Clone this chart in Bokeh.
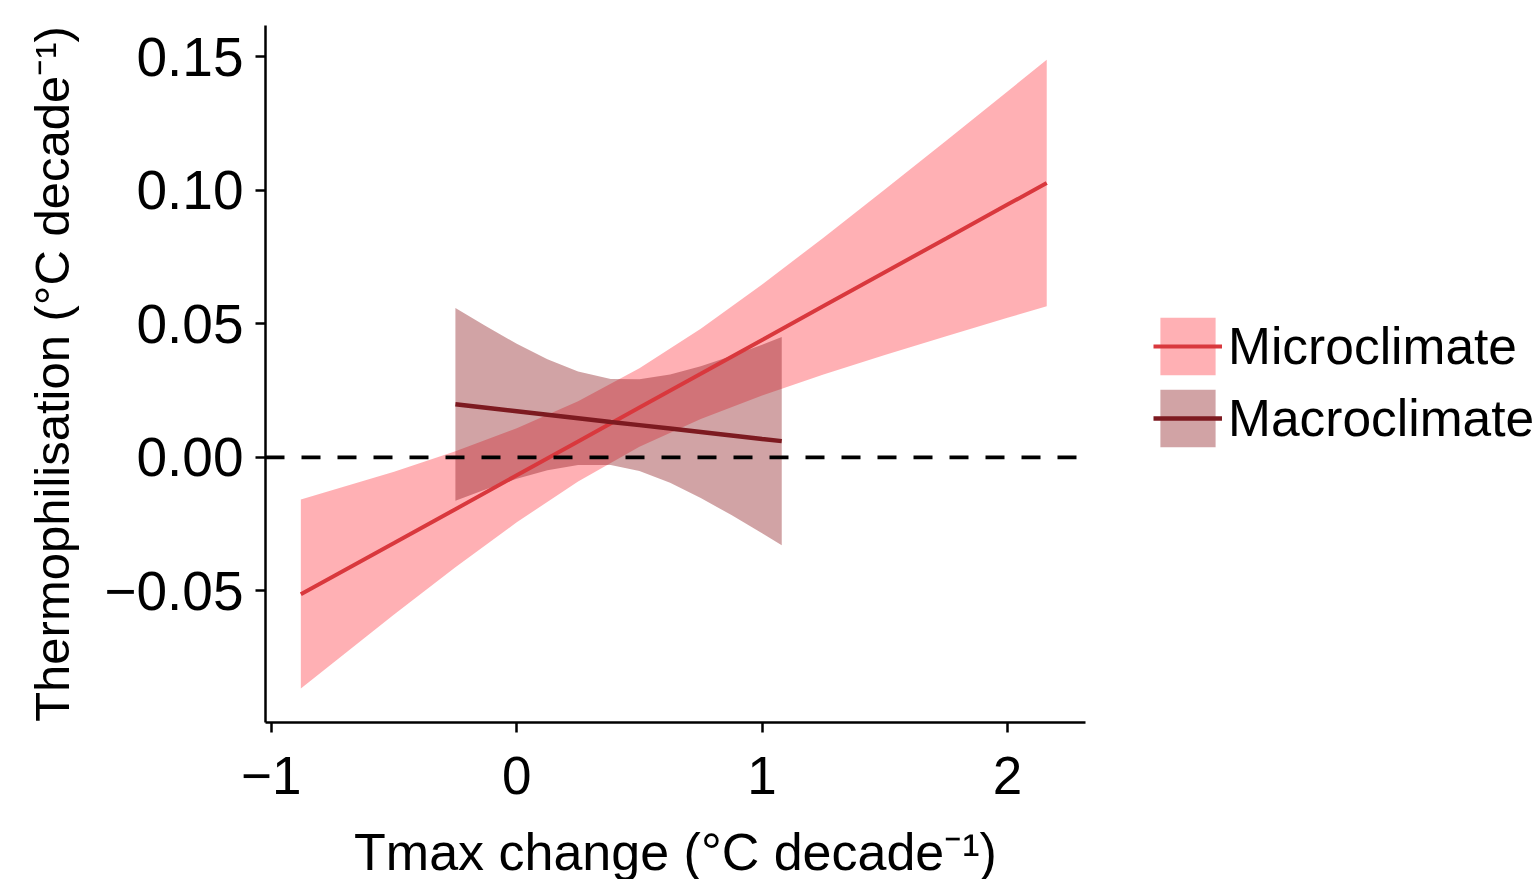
from bokeh.plotting import figure
from bokeh.models import Range1d, FixedTicker, Span, Legend, LegendItem
from bokeh.embed import file_html
from bokeh.resources import INLINE

# ---------------- data ----------------
micro_x = [-0.88, -0.5, -0.25, 0.0, 0.25, 0.5, 0.75, 1.0, 1.25, 1.5, 1.75, 2.0, 2.16]
micro_fit = [-0.0513, -0.0321, -0.0194, -0.0067, 0.0060, 0.0187, 0.0313, 0.0440,
             0.0567, 0.0694, 0.0820, 0.0947, 0.1028]
micro_upper = [-0.0158, -0.0054, 0.0023, 0.0109, 0.0210, 0.0334, 0.0482, 0.0648,
               0.0823, 0.1004, 0.1186, 0.1371, 0.1490]
micro_lower = [-0.0866, -0.0588, -0.0411, -0.0243, -0.0090, 0.0040, 0.0144, 0.0232,
               0.0311, 0.0384, 0.0454, 0.0523, 0.0566]

macro_x = [-0.25, -0.125, 0.0, 0.125, 0.25, 0.383, 0.5, 0.625, 0.75, 0.875, 1.0, 1.08]
macro_fit = [0.0199, 0.0186, 0.0173, 0.0160, 0.0147, 0.0133, 0.0121, 0.0108,
             0.0095, 0.0082, 0.0069, 0.0061]
macro_upper = [0.0560, 0.0491, 0.0426, 0.0368, 0.0322, 0.0294, 0.0293, 0.0311,
               0.0342, 0.0380, 0.0422, 0.0451]
macro_lower = [-0.0162, -0.0119, -0.0080, -0.0048, -0.0028, -0.0028, -0.0051, -0.0095,
               -0.0152, -0.0216, -0.0284, -0.0329]

series_names = ["Microclimate", "Macroclimate"]

x_ticks = [-1, 0, 1, 2]
x_tick_labels = ["\u22121", "0", "1", "2"]
y_ticks = [-0.05, 0.0, 0.05, 0.10, 0.15]
y_tick_labels = ["\u22120.05", "0.00", "0.05", "0.10", "0.15"]

x_title = "Tmax change (\u00b0C decade\u207b\u00b9)"
y_title = "Thermophilisation (\u00b0C decade\u207b\u00b9)"

# ---------------- figure ----------------
FONT = "Liberation Sans"

p = figure(frame_width=820, frame_height=697,
           min_border_left=265, min_border_right=445,
           min_border_top=25, min_border_bottom=148,
           x_range=Range1d(-1.024, 2.318), y_range=Range1d(-0.0993, 0.1618),
           output_backend="svg", toolbar_location=None)

p.xgrid.visible = False
p.ygrid.visible = False
p.outline_line_color = None
p.background_fill_color = "white"
p.border_fill_color = "white"

micro_band = p.varea(x=micro_x, y1=micro_lower, y2=micro_upper,
                     fill_color="#FF2A33", fill_alpha=0.37)
macro_band = p.varea(x=macro_x, y1=macro_lower, y2=macro_upper,
                     fill_color="#8B1A1F", fill_alpha=0.40)

zero = Span(location=0, dimension="width", line_color="black",
            line_width=3.8, line_dash="19 17")
p.add_layout(zero)

micro_line = p.line(micro_x, micro_fit, line_color="#D9383D", line_width=4)
macro_line = p.line(macro_x, macro_fit, line_color="#7D1A20", line_width=4.5)

for ax in (p.xaxis[0], p.yaxis[0]):
    ax.axis_line_color = "black"
    ax.axis_line_width = 2.5
    ax.major_tick_line_color = "black"
    ax.major_tick_line_width = 2.5
    ax.major_tick_in = 0
    ax.major_tick_out = 10
    ax.minor_tick_line_color = None
    ax.major_label_text_font = FONT
    ax.major_label_text_color = "black"
    ax.axis_label_text_font = FONT
    ax.axis_label_text_font_style = "normal"
    ax.axis_label_text_color = "black"

p.xaxis.major_label_text_font_size = "53px"
p.yaxis.major_label_text_font_size = "55px"
p.xaxis.axis_label_text_font_size = "52px"
p.yaxis.axis_label_text_font_size = "49px"

p.xaxis.ticker = FixedTicker(ticks=x_ticks)
p.xaxis.major_label_overrides = dict(zip(x_ticks, x_tick_labels))
p.yaxis.ticker = FixedTicker(ticks=y_ticks)
p.yaxis.major_label_overrides = dict(zip(y_ticks, y_tick_labels))

p.xaxis.axis_label = x_title
p.yaxis.axis_label = y_title
p.xaxis.major_label_standoff = 24
p.xaxis.axis_label_standoff = 26
p.yaxis.major_label_standoff = 12
p.yaxis.axis_label_standoff = 22

legend = Legend(items=[
    LegendItem(label=series_names[0], renderers=[micro_band, micro_line]),
    LegendItem(label=series_names[1], renderers=[macro_band, macro_line]),
], location=(68, 268))
legend.glyph_width = 69
legend.glyph_height = 72
legend.spacing = 0
legend.padding = 0
legend.margin = 0
legend.label_standoff = 6
legend.label_text_font = FONT
legend.label_text_font_size = "51.5px"
legend.label_text_color = "black"
legend.label_height = 72
legend.border_line_color = None
legend.background_fill_alpha = 0
p.add_layout(legend, "right")

open("out.html", "w").write(file_html(p, INLINE))
